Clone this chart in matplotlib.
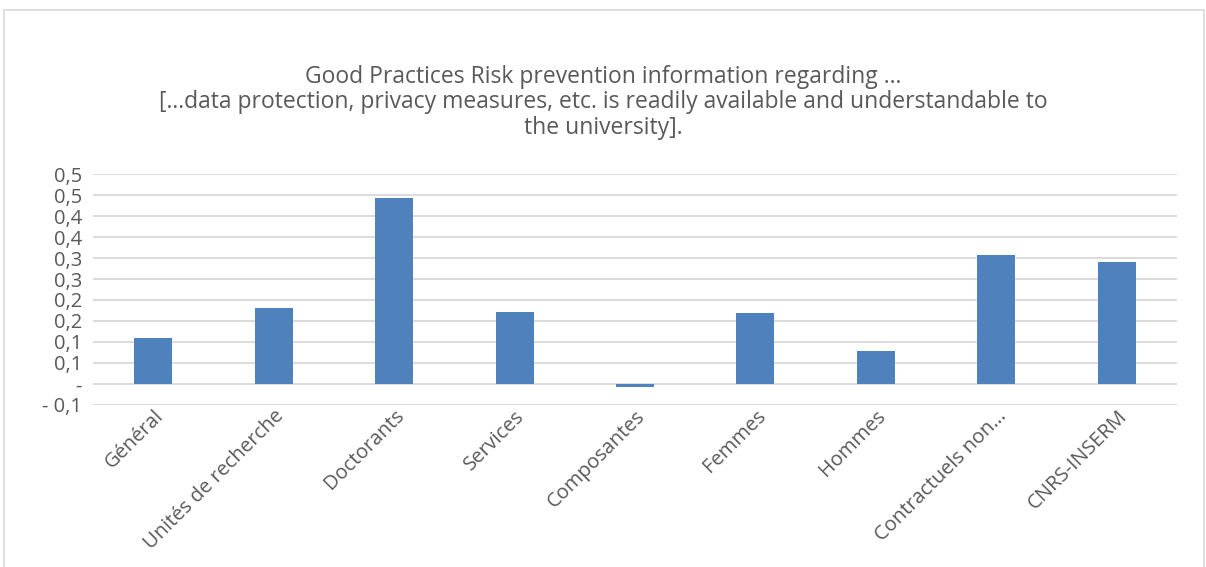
import matplotlib
matplotlib.use("Agg")
import matplotlib.pyplot as plt
from matplotlib.ticker import FuncFormatter, MultipleLocator
from matplotlib.patches import Rectangle
from decimal import Decimal, ROUND_HALF_UP

categories = ["Général", "Unités de recherche", "Doctorants", "Services", "Composantes",
              "Femmes", "Hommes", "Contractuels non…", "CNRS-INSERM"]
values = [0.110, 0.180, 0.443, 0.172, -0.008, 0.169, 0.079, 0.307, 0.290]

title_lines = ["Good Practices Risk prevention information regarding ...",
               "[...data protection, privacy measures, etc. is readily available and understandable to",
               "the university]."]

plt.rcParams['font.family'] = ['Open Sans', 'DejaVu Sans']
txt = '#595959'

fig = plt.figure(figsize=(12.06, 5.67), dpi=100)
# cadre du graphique
fig.patches.append(Rectangle((4 / 1206, -0.1), 1200 / 1206, 1.1 - 10 / 567,
                             transform=fig.transFigure, fill=False,
                             edgecolor='#d9d9d9', linewidth=1.2))

ax = fig.add_axes([93 / 1206, 1 - 404.7 / 567, (1177 - 93) / 1206, (404.7 - 174.3) / 567])
x = range(len(categories))
ax.bar(x, values, width=0.315, color='#4f81bd', zorder=3)

ax.set_ylim(-0.05, 0.5)
ax.set_xlim(-0.5, len(categories) - 0.5)
ax.yaxis.set_major_locator(MultipleLocator(0.05))

# format comptable d'Excel : arrondi au dixième, "-" pour zéro
def fmt(v, pos):
    v = round(v, 4)
    if abs(v) < 1e-9:
        return '-'
    d = Decimal(str(abs(v))).quantize(Decimal('0.1'), rounding=ROUND_HALF_UP)
    s = str(d).replace('.', ',')
    return ('- ' + s) if v < 0 else s

ax.yaxis.set_major_formatter(FuncFormatter(fmt))
ax.grid(axis='y', color='#d9d9d9', linewidth=1.3, zorder=0)
for s in ax.spines.values():
    s.set_visible(False)
ax.tick_params(length=0, labelsize=14.5, colors=txt)
ax.tick_params(axis='y', pad=8)
ax.tick_params(axis='x', pad=1)
ax.set_xticks(list(x))
ax.set_xticklabels(categories, rotation=45, ha='right', rotation_mode='anchor')

for i, line in enumerate(title_lines):
    fig.text(0.5, 1 - (77 + 25.5 * i) / 567, line, ha='center', va='center',
             fontsize=16.5, color=txt)

fig.savefig('out.png', dpi=100)
